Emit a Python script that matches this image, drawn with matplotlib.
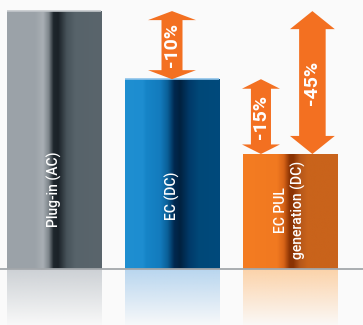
import numpy as np
import matplotlib
matplotlib.use("Agg")
import matplotlib.pyplot as plt
from matplotlib.colors import LinearSegmentedColormap, to_rgb
from matplotlib.patches import Polygon

# ---- data ----
categories = ["Plug-in (AC)", "EC (DC)", "EC PUL\ngeneration (DC)"]
values = [100.0, 73.6, 44.6]
# savings arrows: (label, from-bar index, to-bar index)
savings_labels = ["-10%", "-15%", "-45%"]
savings_from = [0, 1, 0]
savings_to = [1, 2, 2]

# ---- styles ----
FONTS = ["Liberation Sans Narrow", "Roboto", "DejaVu Sans"]
bar_gradients = [
    [(0.0, "#9ba2a8"), (0.30, "#9ca3a9"), (0.38, "#a9afb4"), (0.44, "#7d858b"),
     (0.49, "#1e262c"), (0.54, "#1b2228"), (0.63, "#47535a"), (0.72, "#57636a"), (1.0, "#5a656c")],
    [(0.0, "#1f8fd1"), (0.19, "#1d8dd0"), (0.22, "#1685c8"), (0.37, "#137bbd"), (0.45, "#0a5f97"),
     (0.52, "#00284f"), (0.58, "#00213f"), (0.68, "#003a69"), (0.78, "#004878"), (1.0, "#004a7c")],
    [(0.0, "#f47c22"), (0.36, "#f17920"), (0.43, "#d86418"), (0.49, "#8c3404"),
     (0.53, "#8a3303"), (0.60, "#b5571a"), (0.68, "#c9631b"), (1.0, "#c9631b")],
]
reflection_colors = ["#cdd1d5", "#b9d6ef", "#fcd3aa"]
top_highlight = ["#c3c7cb", "#8ec3ea", None]
BG = "#fafafa"
ARROW = "#f37021"
label_y = [31, 28.3, 23]
arrow_x_offset = [0.0, -0.246, 0.19]
arrow_shaft = [0.178, 0.17, 0.225]
arrow_head_w = [0.407, 0.322, 0.38]
arrow_head_len = [3.5, 3.7, 7.0]

XLIM = (-0.458, 2.619)
YLIM = (-21.7, 104.3)

fig = plt.figure(figsize=(3.63, 3.25), dpi=100)
fig.patch.set_facecolor(BG)
ax = fig.add_axes([0, 0, 1, 1])
ax.set_facecolor(BG)
ax.axis("off")

x = np.arange(len(categories))
bars = ax.bar(x, values, width=0.8, color="none", edgecolor="none", zorder=2)

for i, (patch, grad) in enumerate(zip(bars.patches, bar_gradients)):
    x0, y0 = patch.get_x(), patch.get_y()
    w, h = patch.get_width(), patch.get_height()
    cmap = LinearSegmentedColormap.from_list(f"g{i}", grad)
    img = np.linspace(0, 1, 256)[None, :]
    im = ax.imshow(img, cmap=cmap, extent=[x0, x0 + w, y0, y0 + h],
                   aspect="auto", zorder=2, interpolation="bilinear")
    im.set_clip_path(patch)
    if top_highlight[i]:
        ax.plot([x0, x0 + w], [h, h], color=top_highlight[i], lw=1.2, zorder=3,
                solid_capstyle="butt")
    # reflection
    rc = to_rgb(reflection_colors[i])
    n = 64
    refl = np.zeros((n, 2, 4))
    refl[..., :3] = rc
    refl[..., 3] = np.linspace(1.0, 0.05, n)[:, None]
    ax.imshow(refl, extent=[x0, x0 + w, YLIM[0], 0], aspect="auto", zorder=1,
              interpolation="bilinear", origin="upper")
    # bar label
    ax.text(x[i], label_y[i], categories[i], rotation=90, color="white",
            ha="center", va="center", fontsize=10, family=FONTS,
            fontweight="medium", linespacing=1.3, multialignment="center", zorder=4)

# baseline
ax.axhline(0, color="#a3a7ab", lw=1.3, zorder=3)

# arrows
for k, lab in enumerate(savings_labels):
    top = values[savings_from[k]]
    bot = values[savings_to[k]]
    cx = x[savings_to[k]] + arrow_x_offset[k]
    sw = arrow_shaft[k] / 2
    hw = arrow_head_w[k] / 2
    hl = arrow_head_len[k]
    verts = [
        (cx, top), (cx + hw, top - hl), (cx + sw, top - hl), (cx + sw, bot + hl),
        (cx + hw, bot + hl), (cx, bot), (cx - hw, bot + hl), (cx - sw, bot + hl),
        (cx - sw, top - hl), (cx - hw, top - hl),
    ]
    ax.add_patch(Polygon(verts, closed=True, facecolor=ARROW, edgecolor="none", zorder=5))
    ax.text(cx, (top + bot) / 2, lab, rotation=90, color="white", ha="center",
            va="center", fontsize=14, fontweight="bold", family=FONTS, zorder=6)

ax.set_xlim(*XLIM)
ax.set_ylim(*YLIM)
fig.savefig("out.png", dpi=100, facecolor=BG)
